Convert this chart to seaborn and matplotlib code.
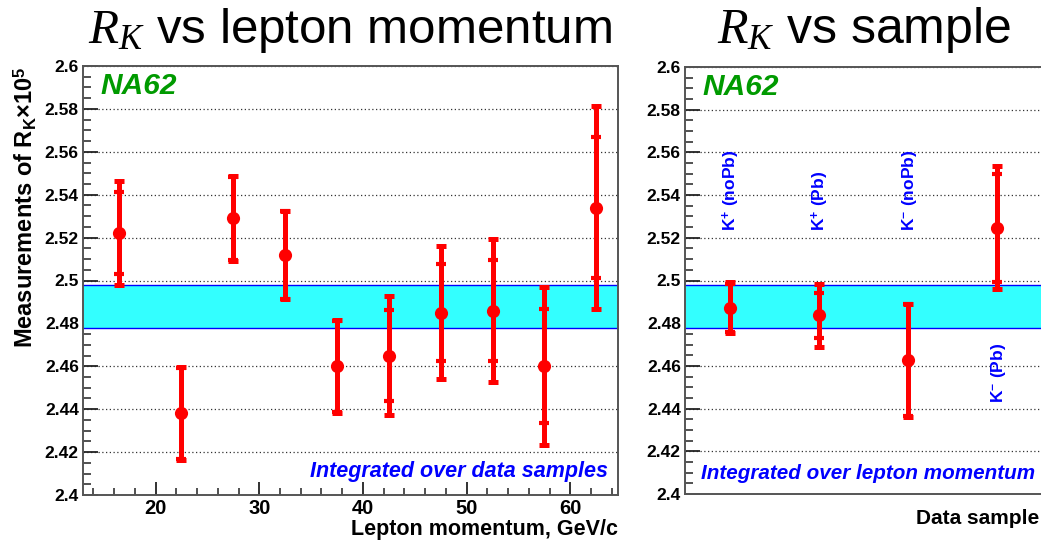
import numpy as np
import pandas as pd
import matplotlib
matplotlib.use("Agg")
import matplotlib.pyplot as plt
import seaborn as sns
from matplotlib.ticker import MultipleLocator, FormatStrFormatter

# ---------------- data ----------------
mom_centres = [16.5, 22.5, 27.5, 32.5, 37.5, 42.5, 47.5, 52.5, 57.5, 62.5]
rk_mom = [2.522, 2.438, 2.529, 2.512, 2.460, 2.465, 2.485, 2.486, 2.460, 2.534]
stat_mom = [0.0192, 0.0212, 0.0194, 0.0204, 0.0213, 0.0213, 0.0225, 0.0237, 0.0265, 0.0329]
tot_mom = [0.0243, 0.0215, 0.0197, 0.0206, 0.0216, 0.0278, 0.0310, 0.0335, 0.0368, 0.0472]

sample_names = ["K$^{+}$ (noPb)", "K$^{+}$ (Pb)", "K$^{-}$ (noPb)", "K$^{-}$ (Pb)"]
sample_pos = [0.5, 1.5, 2.5, 3.5]
rk_sample = [2.4872, 2.4837, 2.4626, 2.5247]
stat_sample = [0.0113, 0.0106, 0.0262, 0.0253]
tot_sample = [0.0120, 0.0148, 0.0265, 0.0288]
label_bottom = [2.523, 2.523, 2.523, 2.4427]

band_lo, band_hi = 2.4777, 2.4979

# ---------------- style ----------------
sns.set_theme(style="ticks")
plt.rcParams["font.family"] = ["Liberation Sans", "DejaVu Sans"]
plt.rcParams["mathtext.fontset"] = "custom"
plt.rcParams["mathtext.rm"] = "Liberation Sans:bold"
plt.rcParams["mathtext.it"] = "Liberation Serif:italic"
plt.rcParams["mathtext.bf"] = "Liberation Sans:bold"
plt.rcParams["text.color"] = "black"
plt.rcParams["xtick.color"] = "black"
plt.rcParams["ytick.color"] = "black"
plt.rcParams["xtick.labelcolor"] = "black"
plt.rcParams["ytick.labelcolor"] = "black"

W, H = 1041, 541
fig = plt.figure(figsize=(W / 100, H / 100), dpi=100)
ax1 = fig.add_axes([83 / W, 46 / H, 535 / W, 429 / H])
ax2 = fig.add_axes([685 / W, 47 / H, 356 / W, 427 / H])

RED = "#ff0000"
SPINE = "#555555"

df_mom = pd.DataFrame({"p": mom_centres, "rk": rk_mom})
df_sam = pd.DataFrame({"s": sample_pos, "rk": rk_sample})


def style_axes(ax):
    ax.set_ylim(2.4, 2.6)
    ax.yaxis.set_major_locator(MultipleLocator(0.02))
    ax.yaxis.set_minor_locator(MultipleLocator(0.005))
    ax.yaxis.set_major_formatter(FormatStrFormatter("%g"))
    ax.set_axisbelow(True)
    ax.yaxis.grid(True, which="major", linestyle=(0, (1, 2)), color="#333333", lw=0.9)
    ax.xaxis.grid(False)
    for s in ax.spines.values():
        s.set_color(SPINE)
        s.set_linewidth(1.4)
        s.set_visible(True)
    ax.tick_params(axis="y", which="major", direction="in", length=11, width=1.3,
                   color="#222222", left=True, right=False, labelsize=12.5, pad=3,
                   labelcolor="black")
    ax.tick_params(axis="y", which="minor", direction="in", length=6, width=1.1,
                   color="#222222", left=True, right=False)
    for lab in ax.get_yticklabels():
        lab.set_fontweight("bold")
    ax.axhspan(band_lo, band_hi, facecolor="#33ffff", edgecolor="none", zorder=1)
    ax.axhline(band_lo, color="#0000ff", lw=1.0, zorder=1.5)
    ax.axhline(band_hi, color="#0000ff", lw=1.0, zorder=1.5)
    ax.set_xlabel("")
    ax.set_ylabel("")


def draw_points(ax, x, y, stat, tot, data, xcol):
    ax.errorbar(x, y, yerr=tot, fmt="none", ecolor=RED, elinewidth=3.6,
                capsize=3.6, capthick=3.6, zorder=3)
    ax.errorbar(x, y, yerr=stat, fmt="none", ecolor=RED, elinewidth=3.6,
                capsize=3.6, capthick=3.0, zorder=3)
    sns.scatterplot(data=data, x=xcol, y="rk", ax=ax, color=RED, s=90,
                    edgecolor=RED, linewidth=0, zorder=4, legend=False)


# ---------- left panel ----------
draw_points(ax1, mom_centres, rk_mom, stat_mom, tot_mom, df_mom, "p")
ax1.set_xlim(13, 64.6)
style_axes(ax1)
ax1.xaxis.set_major_locator(MultipleLocator(10))
ax1.xaxis.set_minor_locator(MultipleLocator(2))
ax1.tick_params(axis="x", which="major", direction="in", length=9.5, width=1.3,
                color="#222222", bottom=True, top=False, labelsize=14.5, pad=3,
                labelcolor="black")
ax1.tick_params(axis="x", which="minor", direction="in", length=5, width=1.1,
                color="#222222", bottom=True, top=False)
for lab in ax1.get_xticklabels():
    lab.set_fontweight("bold")

ax1.text(0.032, 0.953, "NA62", transform=ax1.transAxes, color="#009a00",
         fontsize=21.5, fontweight="bold", fontstyle="italic", ha="left", va="center")
ax1.text(0.981, 0.054, "Integrated over data samples", transform=ax1.transAxes,
         color="#0000ff", fontsize=15.5, fontweight="bold", fontstyle="italic",
         ha="right", va="center")

# ---------- right panel ----------
draw_points(ax2, sample_pos, rk_sample, stat_sample, tot_sample, df_sam, "s")
ax2.set_xlim(0, 4)
style_axes(ax2)
ax2.set_xticks([])
ax2.spines["right"].set_visible(False)

for xpos, yb, name in zip(sample_pos, label_bottom, sample_names):
    ax2.text(xpos + 0.02, yb, name, rotation=90, color="#0000ff", fontsize=12.5,
             fontweight="bold", ha="center", va="bottom", zorder=5)

ax2.text(0.05, 0.953, "NA62", transform=ax2.transAxes, color="#009a00",
         fontsize=21.5, fontweight="bold", fontstyle="italic", ha="left", va="center")
ax2.text(0.983, 0.049, "Integrated over lepton momentum", transform=ax2.transAxes,
         color="#0000ff", fontsize=14.9, fontweight="bold", fontstyle="italic",
         ha="right", va="center")

# ---------- titles and labels ----------
fig.text(350 / W, (H - 43) / H, r"$R_K$ vs lepton momentum", fontsize=35.5,
         fontweight="normal", ha="center", va="baseline", color="black")
fig.text(864 / W, (H - 43) / H, r"$R_K$ vs sample", fontsize=36,
         fontweight="normal", ha="center", va="baseline", color="black")

fig.text(25 / W, (H - 66) / H, r"Measurements of R$_{\mathbf{K}}$$\times$10$^{\mathbf{5}}$",
         rotation=90, fontsize=17, fontweight="bold", ha="center", va="top")
fig.text(618 / W, (H - 535) / H, "Lepton momentum, GeV/c", fontsize=15.5,
         fontweight="bold", ha="right", va="baseline")
fig.text(1039 / W, (H - 518) / H, "Data sample", fontsize=15,
         fontweight="bold", ha="right", va="center")

fig.savefig("out.png", dpi=100)
